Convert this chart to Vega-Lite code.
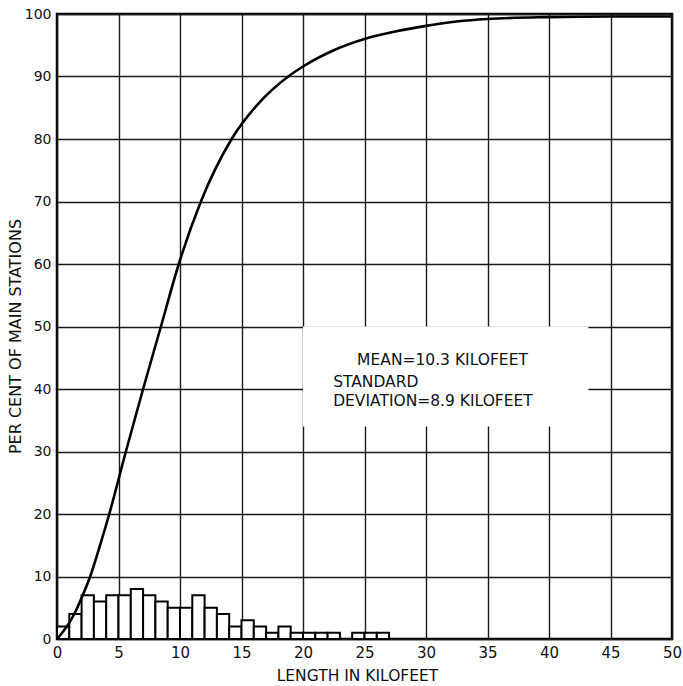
{
  "$schema": "https://vega.github.io/schema/vega-lite/v6.json",
  "autosize": "none",
  "width": 615,
  "height": 625,
  "padding": {"left": 57, "top": 14, "right": 11, "bottom": 47},
  "background": "white",
  "config": {
    "font": "DejaVu Sans",
    "view": {"stroke": "black", "strokeWidth": 2.5, "fill": "white"},
    "axis": {
      "domain": false,
      "ticks": false,
      "tickSize": 0,
      "grid": true,
      "gridColor": "#1a1a1a",
      "gridWidth": 1.4,
      "gridOpacity": 1,
      "labelColor": "#111",
      "titleColor": "#111",
      "titleFontWeight": "normal",
      "labelFont": "DejaVu Sans",
      "titleFont": "DejaVu Sans"
    }
  },
  "datasets": {
    "histogram": [
      {"start": 0, "end": 1, "pct": 2},
      {"start": 1, "end": 2, "pct": 4},
      {"start": 2, "end": 3, "pct": 7},
      {"start": 3, "end": 4, "pct": 6},
      {"start": 4, "end": 5, "pct": 7},
      {"start": 5, "end": 6, "pct": 7},
      {"start": 6, "end": 7, "pct": 8},
      {"start": 7, "end": 8, "pct": 7},
      {"start": 8, "end": 9, "pct": 6},
      {"start": 9, "end": 10, "pct": 5},
      {"start": 10, "end": 11, "pct": 5},
      {"start": 11, "end": 12, "pct": 7},
      {"start": 12, "end": 13, "pct": 5},
      {"start": 13, "end": 14, "pct": 4},
      {"start": 14, "end": 15, "pct": 2},
      {"start": 15, "end": 16, "pct": 3},
      {"start": 16, "end": 17, "pct": 2},
      {"start": 17, "end": 18, "pct": 1},
      {"start": 18, "end": 19, "pct": 2},
      {"start": 19, "end": 20, "pct": 1},
      {"start": 20, "end": 21, "pct": 1},
      {"start": 21, "end": 22, "pct": 1},
      {"start": 22, "end": 23, "pct": 1},
      {"start": 24, "end": 25, "pct": 1},
      {"start": 25, "end": 26, "pct": 1},
      {"start": 26, "end": 27, "pct": 1}
    ],
    "cumulative": [
      {"length": 0, "pct": 0},
      {"length": 0.5, "pct": 1.2},
      {"length": 1, "pct": 2.6},
      {"length": 1.5, "pct": 4.4},
      {"length": 2, "pct": 6.6},
      {"length": 2.7, "pct": 10},
      {"length": 3.5, "pct": 15},
      {"length": 4.25, "pct": 20},
      {"length": 5.6, "pct": 30},
      {"length": 7.0, "pct": 40},
      {"length": 8.45, "pct": 50},
      {"length": 9.9, "pct": 60},
      {"length": 11.7, "pct": 70},
      {"length": 14.2, "pct": 80},
      {"length": 16.3, "pct": 85.5},
      {"length": 18.8, "pct": 90},
      {"length": 20, "pct": 91.6},
      {"length": 22.5, "pct": 94.2},
      {"length": 25, "pct": 96},
      {"length": 27.5, "pct": 97.2},
      {"length": 30, "pct": 98.1},
      {"length": 32.5, "pct": 98.8},
      {"length": 35, "pct": 99.2},
      {"length": 40, "pct": 99.5},
      {"length": 45, "pct": 99.6},
      {"length": 50, "pct": 99.6}
    ],
    "legendPanel": [
      {"x0": 20, "x1": 43.2, "y0": 34, "y1": 50}
    ],
    "notes": [
      {"line": "MEAN=10.3 KILOFEET", "x": 24.4, "y": 44.6},
      {"line": "STANDARD", "x": 22.45, "y": 41.1},
      {"line": "DEVIATION=8.9 KILOFEET", "x": 22.45, "y": 38.1}
    ]
  },
  "layer": [
    {
      "data": {"name": "legendPanel"},
      "mark": {"type": "rect", "fill": "white", "strokeWidth": 0},
      "encoding": {
        "x": {
          "field": "x0",
          "type": "quantitative",
          "scale": {"domain": [0, 50], "nice": false, "zero": false},
          "axis": {
            "values": [0, 5, 10, 15, 20, 25, 30, 35, 40, 45, 50],
            "title": "LENGTH IN KILOFEET",
            "labelFontSize": 15,
            "labelPadding": 6,
            "labelFlush": false,
            "titleFontSize": 15.5,
            "titleX": 300,
            "titleY": 36,
            "titleBaseline": "middle",
            "titleAlign": "center"
          }
        },
        "x2": {"field": "x1"},
        "y": {
          "field": "y0",
          "type": "quantitative",
          "scale": {"domain": [0, 100], "nice": false, "zero": true},
          "axis": {
            "values": [0, 10, 20, 30, 40, 50, 60, 70, 80, 90, 100],
            "title": "PER CENT OF MAIN STATIONS",
            "labelFontSize": 14,
            "labelPadding": 6,
            "labelFlush": false,
            "titleFontSize": 16,
            "titleAngle": -90,
            "titleX": -42,
            "titleY": 322,
            "titleBaseline": "middle",
            "titleAlign": "center"
          }
        },
        "y2": {"field": "y1"}
      }
    },
    {
      "data": {"name": "histogram"},
      "mark": {"type": "rect", "fill": "white", "stroke": "black", "strokeWidth": 2},
      "encoding": {
        "x": {"field": "start", "type": "quantitative"},
        "x2": {"field": "end"},
        "y": {"field": "pct", "type": "quantitative"},
        "y2": {"datum": 0}
      }
    },
    {
      "data": {"name": "cumulative"},
      "mark": {"type": "line", "color": "black", "strokeWidth": 2.6, "interpolate": "monotone"},
      "encoding": {
        "x": {"field": "length", "type": "quantitative"},
        "y": {"field": "pct", "type": "quantitative"}
      }
    },
    {
      "data": {"name": "notes"},
      "mark": {"type": "text", "align": "left", "baseline": "middle", "fontSize": 15.5, "color": "#111", "font": "DejaVu Sans"},
      "encoding": {
        "x": {"field": "x", "type": "quantitative"},
        "y": {"field": "y", "type": "quantitative"},
        "text": {"field": "line"}
      }
    }
  ]
}
